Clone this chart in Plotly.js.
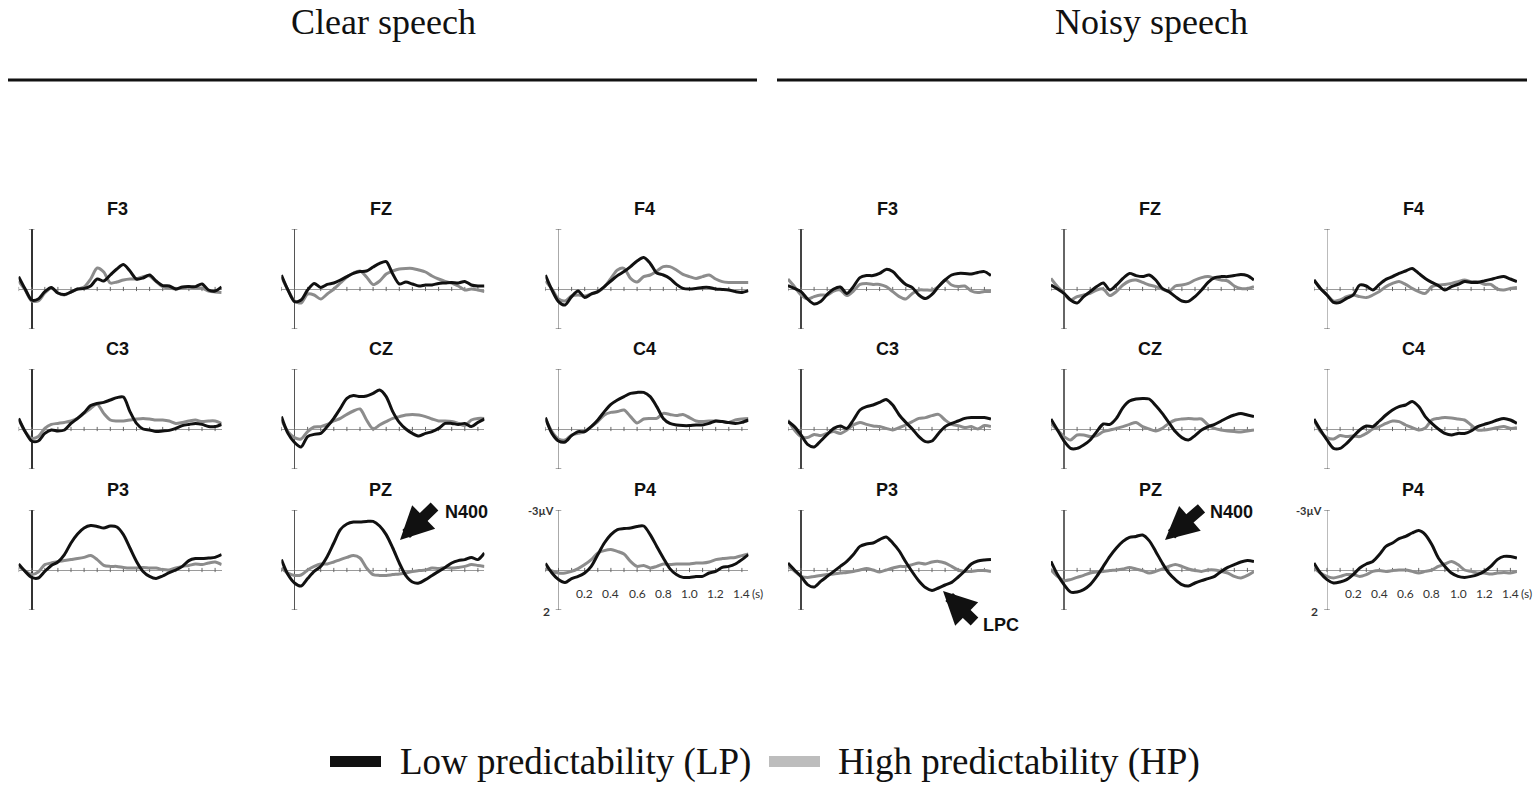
<!DOCTYPE html>
<html><head><meta charset="utf-8">
<script src="https://cdn.plot.ly/plotly-3.0.1.min.js"></script>
<style>html,body{margin:0;padding:0;background:#fff;}#chart{width:1535px;height:788px;}</style>
</head><body><div id="chart"></div>
<script>
// time grid (s)
const T = [-0.1,-0.05,0,0.05,0.1,0.15,0.2,0.25,0.3,0.35,0.4,0.45,0.5,0.55,0.6,0.65,0.7,0.75,0.8,0.85,0.9,0.95,1.0,1.05,1.1,1.15,1.2,1.25,1.3,1.35,1.4,1.45];
const tickT = [-0.1,0,0.1,0.2,0.3,0.4,0.5,0.6,0.7,0.8,0.9,1.0,1.1,1.2,1.3,1.4];
const tickLabels = ["0.2","0.4","0.6","0.8","1.0","1.2","1.4"];
const tickLabelT = [0.2,0.4,0.6,0.8,1.0,1.2,1.4];
const conditions = ["Clear speech","Noisy speech"];
const electrodes = [["F3","FZ","F4"],["C3","CZ","C4"],["P3","PZ","P4"]];
const legendLabels = ["Low predictability (LP)","High predictability (HP)"];

// amplitudes (µV, negative plotted up)
const clearF3LP = [-0.62,0,0.55,0.5,0.13,-0.08,0.2,0.28,0.15,0,-0.03,-0.15,-0.5,-0.4,-0.7,-1.0,-1.22,-0.9,-0.5,-0.55,-0.7,-0.4,-0.17,-0.15,0,-0.1,-0.12,-0.12,-0.25,0.05,0.1,-0.1];
const clearF3HP = [-0.4,0.05,0.6,0.6,0.2,-0.05,0.2,0.3,0.15,0,-0.1,-0.5,-1.05,-0.85,-0.3,-0.35,-0.45,-0.5,-0.5,-0.62,-0.65,-0.37,-0.12,-0.05,0,-0.05,-0.1,-0.05,-0.05,0.1,0.15,0.18];
const clearFZLP = [-0.7,0.05,0.63,0.55,0.05,-0.28,-0.08,-0.23,-0.3,-0.45,-0.62,-0.78,-0.87,-0.9,-1.1,-1.28,-1.37,-0.75,-0.25,-0.35,-0.25,-0.15,-0.2,-0.2,-0.28,-0.3,-0.33,-0.3,-0.38,-0.2,-0.15,-0.15];
const clearFZHP = [-0.6,0.05,0.6,0.7,0.25,0.3,0.5,0.25,0,-0.3,-0.6,-0.8,-0.9,-0.6,-0.22,-0.4,-0.75,-0.9,-1.0,-1.03,-1.03,-0.95,-0.85,-0.65,-0.5,-0.38,-0.3,-0.15,0.05,0,0.05,0.13];
const clearF4LP = [-0.7,0.05,0.63,0.8,0.38,0.1,0.42,0.25,0.13,-0.12,-0.4,-0.67,-0.87,-1.12,-1.4,-1.57,-1.28,-0.8,-0.7,-0.53,-0.23,-0.03,0,-0.03,-0.08,-0.08,0,0.02,0.05,0.13,0.17,0.08];
const clearF4HP = [-0.4,0,0.5,0.6,0.35,0.3,0.35,0.25,0.15,-0.1,-0.53,-0.95,-1.03,-0.53,-0.35,-0.62,-0.7,-0.9,-1.12,-1.12,-0.95,-0.73,-0.62,-0.53,-0.62,-0.7,-0.5,-0.37,-0.33,-0.32,-0.32,-0.32];
const noisyF3LP = [-0.17,-0.03,0.13,0.5,0.75,0.63,0.27,0,-0.1,0.22,-0.12,-0.57,-0.67,-0.67,-0.78,-0.98,-0.87,-0.53,-0.23,-0.07,0.3,0.48,0.27,-0.12,-0.45,-0.7,-0.78,-0.78,-0.75,-0.83,-0.87,-0.67];
const noisyF3HP = [-0.5,-0.12,0.3,0.5,0.38,0.3,0.3,0.1,0.05,0.33,0.1,-0.23,-0.28,-0.23,-0.23,-0.12,0.13,0.38,0.5,0.22,0.05,0.05,0.05,-0.12,-0.45,-0.2,-0.12,-0.15,0.1,0.18,0.13,0.13];
const noisyFZLP = [-0.2,0,0.22,0.55,0.7,0.38,0.13,-0.12,-0.3,0.05,-0.2,-0.53,-0.78,-0.67,-0.62,-0.7,-0.45,-0.03,0.13,0.38,0.6,0.62,0.38,0.05,-0.33,-0.57,-0.62,-0.62,-0.67,-0.73,-0.67,-0.45];
const noisyFZHP = [-0.53,-0.12,0.22,0.55,0.38,0.3,0.22,0.05,0,0.33,0.13,-0.2,-0.4,-0.45,-0.33,-0.2,-0.12,0,0.13,-0.15,-0.2,-0.28,-0.45,-0.57,-0.62,-0.53,-0.45,-0.4,-0.15,-0.03,-0.03,-0.12];
const noisyF4LP = [-0.45,-0.03,0.3,0.67,0.67,0.47,0.3,-0.2,-0.15,0.05,-0.23,-0.48,-0.62,-0.78,-0.9,-1.03,-0.78,-0.53,-0.33,-0.17,0.05,-0.12,-0.23,-0.37,-0.33,-0.33,-0.4,-0.48,-0.57,-0.62,-0.5,-0.37];
const noisyF4HP = [-0.45,-0.03,0.3,0.6,0.55,0.38,0.3,0.38,0.43,0.3,0.13,-0.12,-0.28,-0.37,-0.23,-0.03,0.13,0.22,-0.12,-0.2,-0.23,-0.28,-0.37,-0.45,-0.37,-0.37,-0.23,-0.23,0,0.05,-0.03,-0.07];
const clearC3LP = [-0.53,0.13,0.6,0.6,0.22,0.05,0.1,0.05,-0.28,-0.53,-0.82,-1.17,-1.28,-1.33,-1.45,-1.57,-1.6,-0.87,-0.28,0,0.05,0.13,0.1,0.07,-0.03,-0.17,-0.23,-0.28,-0.23,-0.12,-0.12,-0.23];
const clearC3HP = [-0.5,0.13,0.47,0.38,-0.03,-0.23,-0.28,-0.33,-0.4,-0.53,-0.78,-1.03,-1.23,-0.78,-0.45,-0.4,-0.4,-0.45,-0.5,-0.53,-0.5,-0.45,-0.45,-0.4,-0.28,-0.33,-0.4,-0.45,-0.37,-0.4,-0.4,-0.28];
const clearCZLP = [-0.62,0.22,0.67,0.9,0.38,0.27,0.22,-0.12,-0.53,-1.03,-1.53,-1.67,-1.62,-1.65,-1.78,-1.95,-1.62,-0.87,-0.33,0,0.22,0.35,0.22,0.13,-0.03,-0.28,-0.28,-0.23,-0.28,-0.12,-0.33,-0.5];
const clearCZHP = [-0.45,0.13,0.43,0.5,0.13,-0.1,-0.12,-0.23,-0.4,-0.53,-0.73,-0.9,-1.0,-0.45,0,-0.2,-0.37,-0.53,-0.62,-0.7,-0.73,-0.7,-0.62,-0.5,-0.4,-0.4,-0.37,-0.28,-0.17,-0.45,-0.53,-0.53];
const clearC4LP = [-0.57,0.22,0.6,0.65,0.33,0.13,0.13,-0.12,-0.45,-0.87,-1.23,-1.45,-1.62,-1.78,-1.83,-1.83,-1.62,-1.12,-0.53,-0.28,-0.2,-0.17,-0.17,-0.2,-0.2,-0.28,-0.4,-0.37,-0.32,-0.28,-0.33,-0.45];
const clearC4HP = [-0.53,0.13,0.5,0.55,0.3,0.22,0.13,-0.12,-0.37,-0.7,-0.83,-0.87,-0.95,-0.62,-0.3,-0.5,-0.53,-0.53,-0.78,-0.73,-0.67,-0.73,-0.57,-0.4,-0.37,-0.4,-0.4,-0.37,-0.33,-0.45,-0.5,-0.53];
const noisyC3LP = [-0.37,-0.12,0.3,0.77,0.9,0.6,0.27,-0.03,-0.15,-0.03,-0.45,-0.95,-1.12,-1.2,-1.33,-1.48,-1.2,-0.7,-0.33,0,0.38,0.63,0.6,0.22,-0.12,-0.28,-0.4,-0.53,-0.57,-0.58,-0.57,-0.5];
const noisyC3HP = [-0.45,0.05,0.38,0.43,0.27,0.33,0.22,0.13,0.22,0.05,-0.2,-0.33,-0.23,-0.15,-0.12,-0.03,0.05,-0.07,-0.2,-0.37,-0.53,-0.57,-0.67,-0.73,-0.45,-0.23,-0.17,-0.07,-0.12,0,-0.17,-0.12];
const noisyCZLP = [-0.5,0.05,0.6,0.97,0.97,0.8,0.55,0.13,-0.25,-0.23,-0.53,-1.07,-1.4,-1.5,-1.53,-1.5,-1.17,-0.78,-0.33,0.13,0.43,0.55,0.33,0.05,-0.12,-0.23,-0.4,-0.57,-0.7,-0.78,-0.7,-0.62];
const noisyCZHP = [-0.28,0.05,0.38,0.55,0.3,0.3,0.38,0.33,0.13,0.05,-0.03,-0.12,-0.23,-0.33,-0.12,0,0.1,-0.03,-0.28,-0.45,-0.5,-0.53,-0.5,-0.5,-0.2,-0.03,0.05,0.1,0.13,0.15,0.1,0.05];
const noisyC4LP = [-0.5,0.05,0.55,0.97,0.97,0.72,0.38,0.05,-0.15,-0.12,-0.4,-0.7,-0.95,-1.12,-1.2,-1.37,-1.12,-0.62,-0.28,0,0.22,0.3,0.22,0.22,0.1,-0.12,-0.23,-0.33,-0.45,-0.53,-0.45,-0.28];
const noisyC4HP = [-0.45,0.13,0.43,0.5,0.33,0.38,0.35,0.38,0.22,0,-0.12,-0.28,-0.4,-0.37,-0.2,-0.07,0.05,-0.05,-0.45,-0.53,-0.57,-0.55,-0.5,-0.45,-0.2,0.05,0.05,0,-0.07,-0.12,-0.03,-0.07];
const clearP3LP = [-0.3,0.07,0.37,0.4,0.07,-0.23,-0.4,-0.77,-1.35,-1.8,-2.1,-2.22,-2.18,-2.1,-2.2,-2.15,-1.77,-1.1,-0.43,0.07,0.32,0.42,0.3,0.13,0,-0.18,-0.47,-0.57,-0.57,-0.6,-0.63,-0.77];
const clearP3HP = [-0.18,0.05,0.23,0.1,-0.27,-0.35,-0.43,-0.47,-0.52,-0.57,-0.63,-0.72,-0.52,-0.23,-0.18,-0.18,-0.13,-0.1,-0.1,-0.13,-0.1,-0.1,-0.02,0,-0.1,-0.18,-0.23,-0.3,-0.27,-0.35,-0.4,-0.27];
const clearPZLP = [-0.52,0.23,0.65,0.8,0.43,0.07,-0.18,-0.68,-1.35,-2.02,-2.3,-2.4,-2.4,-2.43,-2.43,-2.2,-1.77,-1.1,-0.35,0.28,0.6,0.65,0.48,0.27,0.07,-0.13,-0.35,-0.47,-0.52,-0.63,-0.52,-0.85];
const clearPZHP = [-0.1,0.15,0.27,0.25,0,-0.18,-0.3,-0.3,-0.4,-0.52,-0.63,-0.73,-0.6,-0.1,0.23,0.27,0.27,0.23,0.2,0.15,0.07,0.03,0,-0.1,-0.07,-0.13,-0.1,-0.13,-0.18,-0.27,-0.23,-0.18];
const clearP4LP = [-0.33,0.15,0.48,0.63,0.43,0.32,0.15,-0.18,-0.77,-1.35,-1.77,-2.02,-2.07,-2.1,-2.18,-2.2,-1.77,-1.18,-0.6,-0.07,0.23,0.37,0.37,0.32,0.32,0.15,0.07,-0.13,-0.18,-0.3,-0.52,-0.77];
const clearP4HP = [-0.1,0.05,0.15,0.15,0.07,-0.07,-0.27,-0.52,-0.85,-0.97,-1.02,-0.93,-0.8,-0.43,-0.18,-0.23,-0.1,-0.18,-0.3,-0.27,-0.3,-0.3,-0.3,-0.35,-0.35,-0.4,-0.52,-0.57,-0.6,-0.63,-0.72,-0.8];
const noisyP3LP = [-0.35,0,0.32,0.73,0.85,0.57,0.32,0.07,-0.18,-0.43,-0.77,-1.18,-1.3,-1.35,-1.52,-1.65,-1.35,-0.95,-0.4,0.1,0.55,0.88,1.02,0.9,0.75,0.62,0.35,0.05,-0.3,-0.45,-0.5,-0.52];
const noisyP3HP = [-0.18,0.05,0.32,0.37,0.32,0.27,0.23,0.2,0.15,0.12,0.07,0,-0.07,0,0.1,0,-0.1,-0.18,-0.18,-0.27,-0.35,-0.3,-0.4,-0.43,-0.35,-0.18,0,0.07,0.07,0.03,0.03,0.07];
const noisyPZLP = [-0.43,0.23,0.73,1.1,1.1,0.98,0.73,0.32,-0.18,-0.68,-1.1,-1.43,-1.63,-1.68,-1.75,-1.47,-0.93,-0.35,0.15,0.48,0.73,0.8,0.65,0.53,0.43,0.32,0.07,-0.13,-0.27,-0.4,-0.47,-0.43];
const noisyPZHP = [-0.02,0.32,0.53,0.48,0.37,0.27,0.15,0.1,0.07,0.03,0,-0.05,-0.13,-0.05,0.03,0.15,0.07,-0.05,-0.18,-0.27,-0.18,-0.05,0.03,0.07,0,0,0.07,0.15,0.32,0.4,0.27,0.07];
const noisyP4LP = [-0.35,0.15,0.48,0.65,0.6,0.48,0.23,-0.1,-0.3,-0.43,-0.77,-1.18,-1.35,-1.57,-1.68,-1.85,-1.97,-1.77,-1.27,-0.6,-0.18,0.15,0.32,0.37,0.32,0.23,0.07,-0.18,-0.52,-0.68,-0.68,-0.6];
const noisyP4HP = [-0.1,0.15,0.32,0.4,0.32,0.23,0.23,0.32,0.23,0.07,0.03,0.07,0.03,0,0,0.07,0.15,0.07,0,-0.18,-0.3,-0.43,-0.27,0,0.07,0.15,0.15,0.2,0.15,0.12,0.15,0.07];

const seriesLP = [
  [[clearF3LP,clearFZLP,clearF4LP],[clearC3LP,clearCZLP,clearC4LP],[clearP3LP,clearPZLP,clearP4LP]],
  [[noisyF3LP,noisyFZLP,noisyF4LP],[noisyC3LP,noisyCZLP,noisyC4LP],[noisyP3LP,noisyPZLP,noisyP4LP]]
];
const seriesHP = [
  [[clearF3HP,clearFZHP,clearF4HP],[clearC3HP,clearCZHP,clearC4HP],[clearP3HP,clearPZHP,clearP4HP]],
  [[noisyF3HP,noisyFZHP,noisyF4HP],[noisyC3HP,noisyCZHP,noisyC4HP],[noisyP3HP,noisyPZHP,noisyP4HP]]
];

// ---- layout geometry (pixels) ----
const W = 1535, H = 788;
const colAxisPx = [[31.7, 294.5, 558.5],[801, 1064, 1327]];
const rowZeroPx = [289, 429, 570];
const PX_S = 131, PX_UV = 20;
const axisColor = [["#333","#555","#aaa"],["#444","#666","#bbb"]];
const axisWidth = [[1.6,1.3,1],[2,1.3,1]];
const fx = p => p / W;
const fy = p => 1 - p / H;

const data = [];
const layout = {
  width: W, height: H, margin: {l:0, r:0, t:0, b:0},
  paper_bgcolor: "#fff", plot_bgcolor: "rgba(0,0,0,0)",
  showlegend: false, annotations: [], shapes: []
};

let idx = 0;
for (let c = 0; c < 2; c++) {
  for (let r = 0; r < 3; r++) {
    for (let k = 0; k < 3; k++) {
      idx++;
      const sfx = idx === 1 ? "" : String(idx);
      const ax0 = colAxisPx[c][k], z0 = rowZeroPx[r];
      layout["xaxis" + sfx] = {
        domain: [fx(ax0 - 0.1 * PX_S), fx(ax0 + 1.45 * PX_S)],
        range: [-0.1, 1.45], anchor: "y" + sfx,
        showgrid: false, showticklabels: false, ticks: "", showline: false,
        zeroline: true, zerolinecolor: axisColor[c][k], zerolinewidth: axisWidth[c][k], fixedrange: true
      };
      layout["yaxis" + sfx] = {
        domain: [fy(z0 + 2 * PX_UV), fy(z0 - 3 * PX_UV)],
        range: [2, -3], anchor: "x" + sfx,
        showgrid: false, showticklabels: false, ticks: "", showline: false,
        zeroline: true, zerolinecolor: "#9a9a9a", zerolinewidth: 1, fixedrange: true
      };
      const xa = "x" + sfx, ya = "y" + sfx;
      // tick marks on the time axis and the amplitude axis ends
      data.push({x: tickT, y: tickT.map(() => 0), xaxis: xa, yaxis: ya, mode: "markers", hoverinfo: "skip",
        marker: {symbol: "line-ns", size: 3, line: {width: 1, color: "#666"}}});
      data.push({x: [0, 0], y: [-3, 2], xaxis: xa, yaxis: ya, mode: "markers", hoverinfo: "skip",
        marker: {symbol: "line-ew", size: 4, line: {width: 1, color: "#555"}}});
      data.push({x: T, y: seriesHP[c][r][k], xaxis: xa, yaxis: ya, mode: "lines", hoverinfo: "skip",
        line: {color: "#8c8c8c", width: 3, shape: "spline", smoothing: 0.8}});
      data.push({x: T, y: seriesLP[c][r][k], xaxis: xa, yaxis: ya, mode: "lines", hoverinfo: "skip",
        line: {color: "#111", width: 3, shape: "spline", smoothing: 0.8}});
      // electrode title
      layout.annotations.push({xref: "paper", yref: "paper", x: fx(ax0 + 86), y: fy(z0 - 80),
        text: "<b>" + electrodes[r][k] + "</b>", showarrow: false, xanchor: "center", yanchor: "middle",
        font: {family: "Liberation Sans, Arial, sans-serif", size: 18, color: "#111"}});
      // scale labels on P4 panels
      if (r === 2 && k === 2) {
        tickLabelT.forEach((tv, i) => layout.annotations.push({xref: "paper", yref: "paper",
          x: fx(ax0 + tv * PX_S), y: fy(z0 + 23), text: tickLabels[i], showarrow: false,
          xanchor: "center", yanchor: "middle", font: {family: "Lato, Open Sans, sans-serif", size: 12, color: "#333"}}));
        layout.annotations.push({xref: "paper", yref: "paper", x: fx(ax0 + 1.52 * PX_S), y: fy(z0 + 23),
          text: "(s)", showarrow: false, xanchor: "center", yanchor: "middle",
          font: {family: "Lato, Open Sans, sans-serif", size: 12, color: "#333"}});
        layout.annotations.push({xref: "paper", yref: "paper", x: fx(ax0 - 3), y: fy(z0 - 60),
          text: "<b>-3µV</b>", showarrow: false, xanchor: "right", yanchor: "middle",
          font: {family: "Lato, Open Sans, sans-serif", size: 11, color: "#333"}});
        layout.annotations.push({xref: "paper", yref: "paper", x: fx(ax0 - 7), y: fy(z0 + 41),
          text: "<b>2</b>", showarrow: false, xanchor: "right", yanchor: "middle",
          font: {family: "Lato, Open Sans, sans-serif", size: 12, color: "#333"}});
      }
    }
  }
}

// condition headers and rules
const headerX = [383, 1151];
const ruleX = [[8, 757], [777, 1527]];
for (let c = 0; c < 2; c++) {
  layout.annotations.push({xref: "paper", yref: "paper", x: fx(headerX[c]), y: fy(22), text: conditions[c],
    showarrow: false, xanchor: "center", yanchor: "middle",
    font: {family: "Liberation Serif, Times New Roman, serif", size: 36, color: "#111"}});
  layout.shapes.push({type: "line", xref: "paper", yref: "paper", x0: fx(ruleX[c][0]), x1: fx(ruleX[c][1]),
    y0: fy(80), y1: fy(80), line: {color: "#111", width: 3}});
}

// component arrows
const arrowSpec = [
  {tip: [400, 540], dx: 36, dy: -35, label: "N400", lx: 466, ly: 512},
  {tip: [1165, 540], dx: 38, dy: -33, label: "N400", lx: 1231, ly: 512},
  {tip: [943, 591], dx: 33, dy: 32, label: "LPC", lx: 1001, ly: 625}
];
arrowSpec.forEach(a => {
  layout.annotations.push({xref: "paper", yref: "paper", x: fx(a.tip[0]), y: fy(a.tip[1]), ax: a.dx, ay: a.dy,
    text: "", showarrow: true, arrowhead: 2, arrowsize: 0.6, arrowwidth: 11, arrowcolor: "#111", standoff: 0});
  layout.annotations.push({xref: "paper", yref: "paper", x: fx(a.lx), y: fy(a.ly), text: "<b>" + a.label + "</b>",
    showarrow: false, xanchor: "center", yanchor: "middle",
    font: {family: "Liberation Sans, Arial, sans-serif", size: 18, color: "#111"}});
});

// legend
const legendBar = [[330, 381, "#111"], [769, 820, "#bdbdbd"]];
const legendTextX = [398, 836];
for (let i = 0; i < 2; i++) {
  layout.shapes.push({type: "rect", xref: "paper", yref: "paper", x0: fx(legendBar[i][0]), x1: fx(legendBar[i][1]),
    y0: fy(767), y1: fy(756), fillcolor: legendBar[i][2], line: {width: 0}});
  layout.annotations.push({xref: "paper", yref: "paper", x: fx(legendTextX[i]), y: fy(762), text: legendLabels[i],
    showarrow: false, xanchor: "left", yanchor: "middle",
    font: {family: "Liberation Serif, Times New Roman, serif", size: 37, color: "#111"}});
}

Plotly.newPlot("chart", data, layout, {staticPlot: true, displayModeBar: false});
</script>
</body></html>
